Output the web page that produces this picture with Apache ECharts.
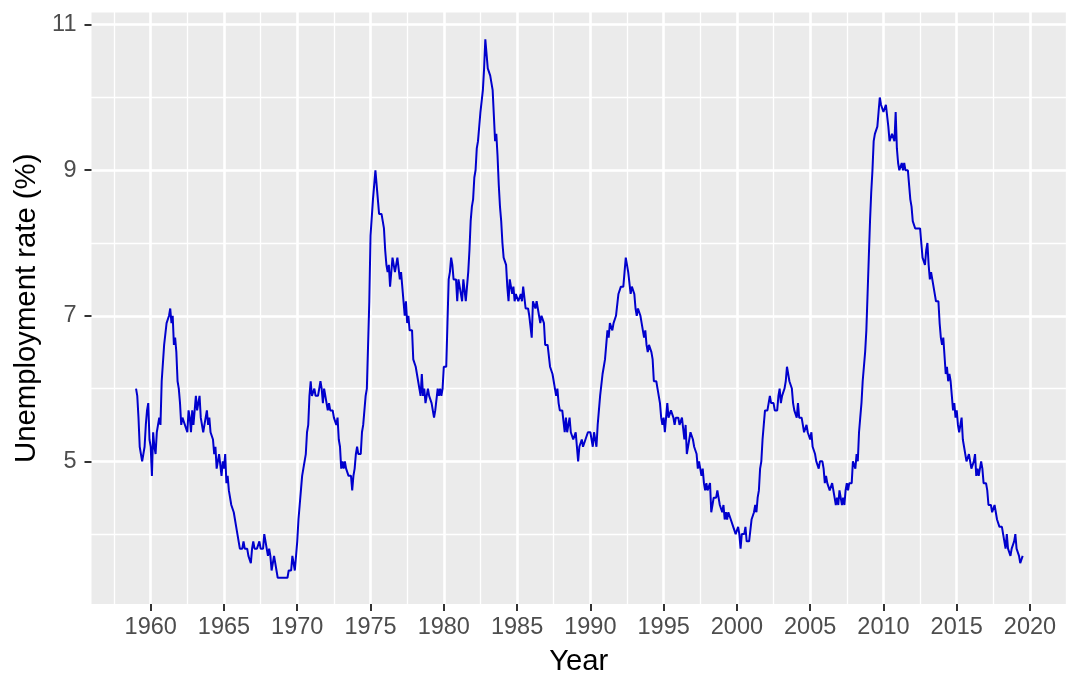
<!DOCTYPE html>
<html><head><meta charset="utf-8">
<script src="https://cdn.jsdelivr.net/npm/echarts@6/dist/echarts.min.js"></script>
<style>html,body{margin:0;padding:0;background:#fff}#c{width:1080px;height:693px}</style>
</head><body><div id="c"></div>
<script>
// ---- data: US monthly unemployment rate (%), starting Jan 1959 ----
const startYear = 1959;
const rates1959 = [6.0,5.9,5.6,5.2,5.1,5.0,5.1,5.2,5.5,5.7,5.8,5.3];
const rates1960s = [
  5.2,4.8,5.4,5.2,5.1,5.4,5.5,5.6,5.5,6.1,6.1,6.6,
  6.6,6.9,6.9,7.0,7.1,6.9,7.0,6.6,6.7,6.5,6.1,6.0,
  5.8,5.5,5.6,5.6,5.5,5.5,5.4,5.7,5.6,5.4,5.7,5.5,
  5.7,5.9,5.7,5.7,5.9,5.6,5.6,5.4,5.5,5.5,5.7,5.5,
  5.6,5.4,5.4,5.3,5.1,5.2,4.9,5.0,5.1,5.1,4.8,5.0,
  4.9,5.1,4.7,4.8,4.6,4.6,4.4,4.4,4.3,4.2,4.1,4.0,
  4.0,3.8,3.8,3.8,3.9,3.8,3.8,3.8,3.7,3.7,3.6,3.8,
  3.9,3.8,3.8,3.8,3.8,3.9,3.8,3.8,3.8,4.0,3.9,3.8,
  3.7,3.8,3.7,3.5,3.5,3.7,3.7,3.5,3.4,3.4,3.4,3.4,
  3.4,3.4,3.4,3.4,3.4,3.5,3.5,3.5,3.7,3.7,3.5,3.5];
const rates1970s = [
  3.9,4.2,4.4,4.6,4.8,4.9,5.0,5.1,5.4,5.5,5.9,6.1,
  5.9,5.9,6.0,5.9,5.9,5.9,6.0,6.1,6.0,5.8,6.0,6.0,
  5.8,5.7,5.8,5.7,5.7,5.7,5.6,5.6,5.5,5.6,5.3,5.2,
  4.9,5.0,4.9,5.0,4.9,4.9,4.8,4.8,4.8,4.6,4.8,4.9,
  5.1,5.2,5.1,5.1,5.1,5.4,5.5,5.5,5.9,6.0,6.6,7.2,
  8.1,8.1,8.6,8.8,9.0,8.8,8.6,8.4,8.4,8.4,8.3,8.2,
  7.9,7.7,7.6,7.7,7.4,7.6,7.8,7.8,7.6,7.7,7.8,7.8,
  7.5,7.6,7.4,7.2,7.0,7.2,6.9,7.0,6.8,6.8,6.8,6.4,
  6.4,6.3,6.3,6.1,6.0,5.9,6.2,5.9,6.0,5.8,5.9,6.0,
  5.9,5.9,5.8,5.8,5.6,5.7,5.7,6.0,5.9,6.0,5.9,6.0];
const rates1980s = [
  6.3,6.3,6.3,6.9,7.5,7.6,7.8,7.7,7.5,7.5,7.5,7.2,
  7.5,7.4,7.4,7.2,7.5,7.5,7.2,7.4,7.6,7.9,8.3,8.5,
  8.6,8.9,9.0,9.3,9.4,9.6,9.8,9.8,10.1,10.4,10.8,10.8,
  10.4,10.4,10.3,10.2,10.1,10.1,9.4,9.5,9.2,8.8,8.5,8.3,
  8.0,7.8,7.8,7.7,7.4,7.2,7.5,7.5,7.3,7.4,7.2,7.3,
  7.3,7.2,7.2,7.3,7.2,7.4,7.4,7.1,7.1,7.1,7.0,7.0,
  6.7,7.2,7.2,7.1,7.2,7.2,7.0,6.9,7.0,7.0,6.9,6.6,
  6.6,6.6,6.6,6.3,6.3,6.2,6.1,6.0,5.9,6.0,5.8,5.7,
  5.7,5.7,5.7,5.4,5.6,5.4,5.4,5.6,5.4,5.4,5.3,5.3,
  5.4,5.2,5.0,5.2,5.2,5.3,5.2,5.2,5.3,5.3,5.4,5.4];
const rates1990s = [
  5.4,5.3,5.2,5.4,5.4,5.2,5.5,5.7,5.9,5.9,6.2,6.3,
  6.4,6.6,6.8,6.7,6.9,6.9,6.8,6.9,6.9,7.0,7.0,7.3,
  7.3,7.4,7.4,7.4,7.6,7.8,7.7,7.6,7.6,7.3,7.4,7.4,
  7.3,7.1,7.0,7.1,7.1,7.0,6.9,6.8,6.7,6.8,6.6,6.5,
  6.6,6.6,6.5,6.4,6.1,6.1,6.1,6.0,5.9,5.8,5.6,5.5,
  5.6,5.4,5.4,5.8,5.6,5.6,5.7,5.7,5.6,5.5,5.6,5.6,
  5.6,5.5,5.5,5.6,5.6,5.3,5.5,5.1,5.2,5.2,5.4,5.4,
  5.3,5.2,5.2,5.1,4.9,5.0,4.9,4.8,4.9,4.7,4.6,4.7,
  4.6,4.6,4.7,4.3,4.4,4.5,4.5,4.5,4.6,4.5,4.4,4.4,
  4.3,4.4,4.2,4.3,4.2,4.3,4.3,4.2,4.2,4.1,4.1,4.0];
const rates2000s = [
  4.0,4.1,4.0,3.8,4.0,4.0,4.0,4.1,3.9,3.9,3.9,3.9,
  4.2,4.2,4.3,4.4,4.3,4.5,4.6,4.9,5.0,5.3,5.5,5.7,
  5.7,5.7,5.7,5.9,5.8,5.8,5.8,5.7,5.7,5.7,5.9,6.0,
  5.8,5.9,5.9,6.0,6.1,6.3,6.2,6.1,6.1,6.0,5.8,5.7,
  5.7,5.6,5.8,5.6,5.6,5.6,5.5,5.4,5.4,5.5,5.4,5.4,
  5.3,5.4,5.2,5.2,5.1,5.0,5.0,4.9,5.0,5.0,5.0,4.9,
  4.7,4.8,4.7,4.7,4.6,4.6,4.7,4.7,4.5,4.4,4.5,4.4,
  4.6,4.5,4.4,4.5,4.4,4.6,4.7,4.6,4.7,4.7,4.7,5.0,
  5.0,4.9,5.1,5.0,5.4,5.6,5.8,6.1,6.1,6.5,6.8,7.3,
  7.8,8.3,8.7,9.0,9.4,9.5,9.5,9.6,9.8,10.0,9.9,9.9];
const rates2010s = [
  9.8,9.8,9.9,9.9,9.6,9.4,9.4,9.5,9.5,9.4,9.8,9.3,
  9.1,9.0,9.0,9.1,9.0,9.1,9.0,9.0,9.0,8.8,8.6,8.5,
  8.3,8.3,8.2,8.2,8.2,8.2,8.2,8.0,7.8,7.8,7.7,7.9,
  8.0,7.7,7.5,7.6,7.5,7.5,7.3,7.2,7.2,7.2,6.9,6.7,
  6.6,6.7,6.7,6.2,6.3,6.1,6.2,6.1,5.9,5.7,5.8,5.6,
  5.7,5.5,5.4,5.4,5.6,5.3,5.2,5.1,5.0,5.0,5.1,5.0,
  4.9,4.9,5.0,5.1,4.8,4.9,4.8,4.9,5.0,4.9,4.7,4.7,
  4.7,4.6,4.4,4.4,4.4,4.3,4.3,4.4,4.3,4.2,4.2,4.1,
  4.1,4.1,4.0,4.0,3.8,4.0,3.8,3.8,3.7,3.8,3.8,3.9,
  4.0,3.8,3.8,3.7,3.6,3.6,3.7];
const xTickValues = [1960,1965,1970,1975,1980,1985,1990,1995,2000,2005,2010,2015,2020];
const yTickValues = [5,7,9,11];
const xTitle = 'Year';
const yTitle = 'Unemployment rate (%)';

// ---- layout (pixels) ----
const W = 1080, H = 693;
const PANEL = {l: 91.5, r: 1066, t: 12.5, b: 604};
const X_REF = 1960, X_REF_PX = 150.7, PPX = 14.655;
const Y_REF = 11, Y_REF_PX = 24.7, PPY = 72.77;
const xv = p => X_REF + (p - X_REF_PX) / PPX;
const yv = p => Y_REF - (p - Y_REF_PX) / PPY;
const px = v => X_REF_PX + (v - X_REF) * PPX;
const py = v => Y_REF_PX + (Y_REF - v) * PPY;

const rates = [].concat(rates1959, rates1960s, rates1970s, rates1980s, rates1990s, rates2000s, rates2010s);
const seriesData = rates.map((v, i) => [startYear + i / 12, v]);

const FONT = 'Liberation Sans, Arial, Helvetica, sans-serif';
const lineMin = 1955, lineMinY = 3;
const hidden = {axisLine:{show:false}, axisTick:{show:false}, axisLabel:{show:false}};

const chart = echarts.init(document.getElementById('c'), null, {renderer: 'canvas'});
chart.setOption({
  animation: false,
  backgroundColor: '#ffffff',
  grid: [
    {left: PANEL.l, right: W - PANEL.r, top: PANEL.t, bottom: H - PANEL.b,
     show: true, backgroundColor: '#EBEBEB', borderWidth: 0, borderColor: 'transparent', containLabel: false},
    {left: px(lineMin), right: 0, top: 0, bottom: H - py(lineMinY), show: false, containLabel: false}
  ],
  xAxis: [
    {type: 'value', gridIndex: 0, min: xv(PANEL.l), max: xv(PANEL.r), z: 6,
     axisLine: {show: false},
     axisTick: {show: true, customValues: xTickValues, length: 7, lineStyle: {color: '#333333', width: 2}},
     axisLabel: {show: true, customValues: xTickValues, margin: 12, color: '#4D4D4D', fontSize: 23.5, fontFamily: FONT,
                 formatter: v => String(v)},
     splitLine: {show: false},
     name: xTitle, nameLocation: 'middle', nameGap: 43,
     nameTextStyle: {color: '#000000', fontSize: 29.3, fontFamily: FONT}},
    Object.assign({type: 'value', gridIndex: 1, position: 'bottom', min: lineMin, max: xv(W), interval: 5, z: 1,
     splitLine: {show: true, lineStyle: {color: '#ffffff', width: 2.6}}}, hidden),
    Object.assign({type: 'value', gridIndex: 1, position: 'top', min: lineMin, max: xv(W), interval: 2.5, z: 1,
     splitLine: {show: true, lineStyle: {color: '#ffffff', width: 1.3}}}, hidden)
  ],
  yAxis: [
    {type: 'value', gridIndex: 0, min: yv(PANEL.b), max: yv(PANEL.t), z: 6,
     axisLine: {show: false},
     axisTick: {show: true, customValues: yTickValues, length: 7, lineStyle: {color: '#333333', width: 2}},
     axisLabel: {show: true, customValues: yTickValues, margin: 15, color: '#4D4D4D', fontSize: 23.5, fontFamily: FONT,
                 formatter: v => String(v)},
     splitLine: {show: false},
     name: yTitle, nameLocation: 'middle', nameGap: 46,
     nameTextStyle: {color: '#000000', fontSize: 29.3, fontFamily: FONT}},
    Object.assign({type: 'value', gridIndex: 1, position: 'left', min: lineMinY, max: yv(0), interval: 2, z: 1,
     splitLine: {show: true, lineStyle: {color: '#ffffff', width: 2.6}}}, hidden),
    Object.assign({type: 'value', gridIndex: 1, position: 'right', min: lineMinY, max: yv(0), interval: 1, z: 1,
     splitLine: {show: true, lineStyle: {color: '#ffffff', width: 1.3}}}, hidden)
  ],
  series: [{
    type: 'line', xAxisIndex: 0, yAxisIndex: 0, data: seriesData, z: 3,
    showSymbol: false, symbol: 'none', smooth: false,
    lineStyle: {color: '#0000CD', width: 2}
  }]
});
</script></body></html>
